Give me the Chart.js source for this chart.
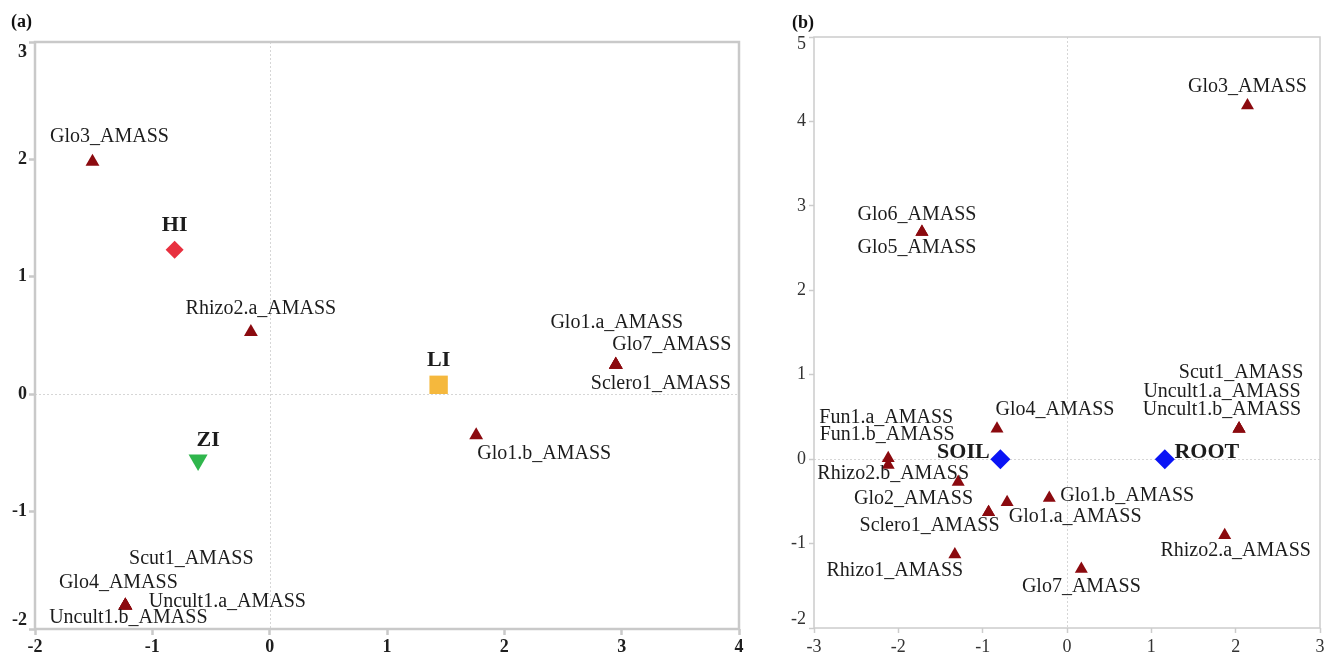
<!DOCTYPE html>
<html>
<head>
<meta charset="utf-8">
<title>CCA biplots (a) and (b)</title>
<script src="https://cdn.jsdelivr.net/npm/chart.js@4.4.1/dist/chart.umd.min.js"></script>
<style>
  html, body { margin: 0; padding: 0; background: #fff; }
  #wrap { position: relative; width: 1326px; height: 659px; overflow: hidden; }
  .panel { position: absolute; top: 0; height: 659px; }
  .tag { position: absolute; font: bold 18px "Liberation Serif", serif; color: #111; }
</style>
</head>
<body>
<div id="wrap">
  <div class="panel" style="left:0;width:770px"><canvas id="chartA" width="770" height="659"></canvas></div>
  <div class="panel" style="left:770px;width:556px"><canvas id="chartB" width="556" height="659"></canvas></div>
  <div class="tag" style="left:11px;top:11px">(a)</div>
  <div class="tag" style="left:792px;top:12px">(b)</div>
</div>
<script>
// ---- panel (a) values ----
var speciesA = ['Glo3_AMASS', 'Rhizo2.a_AMASS', 'Glo1.a_AMASS', 'Glo7_AMASS', 'Sclero1_AMASS',
    'Glo1.b_AMASS', 'Scut1_AMASS', 'Glo4_AMASS', 'Uncult1.a_AMASS', 'Uncult1.b_AMASS'];
var speciesAx = [-1.51, -0.16, 2.95, 2.95, 2.95, 1.76, -1.23, -1.23, -1.23, -1.23];
var speciesAy = [1.98, 0.53, 0.25, 0.25, 0.25, -0.35, -1.80, -1.80, -1.80, -1.80];
var sitesA = ['HI', 'LI', 'ZI'];
var sitesAx = [-0.81, 1.44, -0.61];
var sitesAy = [1.23, 0.08, -0.56];
var xTicksA = [-2, -1, 0, 1, 2, 3, 4];
var yTicksA = [-2, -1, 0, 1, 2, 3];

// ---- panel (b) values ----
var speciesB = ['Glo3_AMASS', 'Glo6_AMASS', 'Glo5_AMASS', 'Glo4_AMASS', 'Scut1_AMASS',
    'Uncult1.a_AMASS', 'Uncult1.b_AMASS', 'Fun1.a_AMASS', 'Fun1.b_AMASS', 'Rhizo2.b_AMASS',
    'Glo2_AMASS', 'Sclero1_AMASS', 'Glo1.a_AMASS', 'Glo1.b_AMASS', 'Rhizo2.a_AMASS',
    'Rhizo1_AMASS', 'Glo7_AMASS'];
var speciesBx = [2.14, -1.72, -1.72, -0.83, 2.04, 2.04, 2.04, -2.12, -2.12, -1.29,
    -0.93, -0.93, -0.71, -0.21, 1.87, -1.33, 0.17];
var speciesBy = [4.19, 2.69, 2.69, 0.36, 0.36, 0.36, 0.36, 0.01, -0.07, -0.27,
    -0.63, -0.63, -0.51, -0.46, -0.90, -1.13, -1.30];
var sitesB = ['SOIL', 'ROOT'];
var sitesBx = [-0.79, 1.16];
var sitesBy = [0, 0];
var xTicksB = [-3, -2, -1, 0, 1, 2, 3];
var yTicksB = [-2, -1, 0, 1, 2, 3, 4, 5];

// label placement next to each marker (pixels), layout only
var shiftA = {
    'Glo3_AMASS': [17, -25], 'Rhizo2.a_AMASS': [10, -23], 'Glo1.a_AMASS': [1, -42],
    'Glo7_AMASS': [56, -20], 'Sclero1_AMASS': [45, 19], 'Glo1.b_AMASS': [68, 18],
    'Scut1_AMASS': [66, -47], 'Glo4_AMASS': [-7, -23], 'Uncult1.a_AMASS': [102, -4],
    'Uncult1.b_AMASS': [3, 12], 'HI': [0, -24], 'LI': [0, -24], 'ZI': [10, -20]
};
var shiftB = {
    'Glo3_AMASS': [0, -19], 'Glo6_AMASS': [-5, -17], 'Glo5_AMASS': [-5, 16],
    'Glo4_AMASS': [58, -19], 'Scut1_AMASS': [2, -56], 'Uncult1.a_AMASS': [-17, -37],
    'Uncult1.b_AMASS': [-17, -19], 'Fun1.a_AMASS': [-2, -41], 'Fun1.b_AMASS': [-1, -30],
    'Rhizo2.b_AMASS': [-65, -8], 'Glo2_AMASS': [-75, -14], 'Sclero1_AMASS': [-59, 13],
    'Glo1.a_AMASS': [68, 15], 'Glo1.b_AMASS': [78, -2], 'Rhizo2.a_AMASS': [11, 16],
    'Rhizo1_AMASS': [-60, 16], 'Glo7_AMASS': [0, 18], 'SOIL': [-37, -7], 'ROOT': [42, -7]
};

var siteLook = {
    HI: { style: 'rectRot', color: '#e8303f', r: 9, rot: 0 },
    LI: { style: 'rect', color: '#f5b83d', r: 13, rot: 0 },
    ZI: { style: 'triangle', color: '#2fb64c', r: 11, rot: 180 },
    SOIL: { style: 'rectRot', color: '#0a14f5', r: 10, rot: 0 },
    ROOT: { style: 'rectRot', color: '#0a14f5', r: 10, rot: 0 }
};

function toPoints(xs, ys) {
    return xs.map(function (x, i) { return { x: x, y: ys[i] }; });
}

// names next to the markers
var pointLabels = {
    id: 'pointLabels',
    afterDatasetsDraw: function (chart) {
        var ctx = chart.ctx;
        var shifts = chart.options.plugins.pointLabels.shifts;
        chart.data.datasets.forEach(function (ds, i) {
            var meta = chart.getDatasetMeta(i);
            meta.data.forEach(function (el, j) {
                var name = ds.names[j];
                var s = shifts[name] || [0, 0];
                ctx.save();
                ctx.font = ds.labelFont;
                ctx.fillStyle = '#1c1c1c';
                ctx.textAlign = 'center';
                ctx.textBaseline = 'middle';
                ctx.fillText(name, el.x + s[0], el.y + s[1]);
                ctx.restore();
            });
        });
    }
};

// box round the plot, the dotted zero lines, and the end labels of the y axis
// (those sit inside the axis range in the original, so they are drawn here)
var frame = {
    id: 'frame',
    beforeDatasetsDraw: function (chart) {
        var a = chart.chartArea, ctx = chart.ctx;
        var o = chart.options.plugins.frame;
        var ys = chart.scales.y;
        var x0 = chart.scales.x.getPixelForValue(0);
        var y0 = ys.getPixelForValue(0);
        ctx.save();
        ctx.strokeStyle = '#d6d6d6';
        ctx.lineWidth = 1;
        ctx.setLineDash([2, 2]);
        ctx.beginPath();
        ctx.moveTo(Math.round(x0) + 0.5, a.top);
        ctx.lineTo(Math.round(x0) + 0.5, a.bottom);
        ctx.moveTo(a.left, Math.round(y0) + 0.5);
        ctx.lineTo(a.right, Math.round(y0) + 0.5);
        ctx.stroke();
        ctx.setLineDash([]);
        ctx.strokeStyle = o.color;
        ctx.lineWidth = o.width;
        ctx.strokeRect(a.left, a.top, a.right - a.left, a.bottom - a.top);

        ctx.font = o.tickFont;
        ctx.fillStyle = o.tickColor;
        ctx.textAlign = 'right';
        ctx.textBaseline = 'middle';
        var lx = a.left - o.tickLen - o.tickPad;
        ctx.fillText(String(ys.max), lx, ys.getPixelForValue(ys.max) + o.endShift[0]);
        ctx.fillText(String(ys.min), lx, ys.getPixelForValue(ys.min) - o.endShift[1]);
        ctx.restore();
    }
};

function buildPanel(canvasId, p) {
    var datasets = [{
        names: p.species,
        labelFont: '20px "Liberation Serif"',
        data: toPoints(p.sx, p.sy),
        pointStyle: 'triangle',
        pointRadius: p.triR,
        backgroundColor: '#8b0a0f',
        borderWidth: 0
    }];
    p.sites.forEach(function (name, i) {
        var look = siteLook[name];
        datasets.push({
            names: [name],
            labelFont: 'bold 22px "Liberation Serif"',
            data: [{ x: p.tx[i], y: p.ty[i] }],
            pointStyle: look.style,
            pointRotation: look.rot,
            pointRadius: look.r,
            backgroundColor: look.color,
            borderWidth: 0
        });
    });

    function axis(ticks, size, hideEnds) {
        return {
            type: 'linear',
            min: ticks[0],
            max: ticks[ticks.length - 1],
            afterBuildTicks: function (scale) {
                scale.ticks = ticks.map(function (v) { return { value: v }; });
            },
            afterFit: function (s) {
                size(s);
                // no extra room for overhanging end labels, the layout padding handles it
                s.paddingLeft = 0;
                s.paddingRight = 0;
                s.paddingTop = 0;
                s.paddingBottom = 0;
            },
            border: { display: false },
            grid: {
                display: true,
                drawOnChartArea: false,
                drawTicks: true,
                tickLength: p.tickLen,
                tickColor: p.frameColor,
                tickWidth: p.frameWidth
            },
            ticks: {
                padding: p.tickPad,
                color: p.tickColor,
                font: { family: '"Liberation Serif"', size: 18, weight: p.tickWeight },
                callback: function (v) {
                    if (hideEnds && (v === ticks[0] || v === ticks[ticks.length - 1])) {
                        return '';
                    }
                    return String(v);
                }
            }
        };
    }

    return new Chart(document.getElementById(canvasId).getContext('2d'), {
        type: 'scatter',
        data: { datasets: datasets },
        options: {
            responsive: false,
            animation: false,
            layout: { padding: p.padding, autoPadding: false },
            scales: {
                x: axis(p.xTicks, function (s) { s.height = p.xAxisH; }, false),
                y: axis(p.yTicks, function (s) { s.width = p.yAxisW; }, true)
            },
            plugins: {
                legend: { display: false },
                tooltip: { enabled: false },
                pointLabels: { shifts: p.shifts },
                frame: {
                    color: p.frameColor, width: p.frameWidth,
                    tickFont: (p.tickWeight === 'bold' ? 'bold ' : '') + '18px "Liberation Serif"',
                    tickColor: p.tickColor, tickLen: p.tickLen, tickPad: p.tickPad,
                    endShift: p.endShift
                }
            }
        },
        plugins: [frame, pointLabels]
    });
}

buildPanel('chartA', {
    species: speciesA, sx: speciesAx, sy: speciesAy,
    sites: sitesA, tx: sitesAx, ty: sitesAy,
    xTicks: xTicksA, yTicks: yTicksA, shifts: shiftA,
    triR: 8, tickLen: 6, tickPad: 2, tickColor: '#1e1e1e', tickWeight: 'bold',
    frameColor: '#c9c9c9', frameWidth: 2.5,
    xAxisH: 30, yAxisW: 35, endShift: [10, 9],
    padding: { top: 42, right: 31, left: 0, bottom: 0 }
});

buildPanel('chartB', {
    species: speciesB, sx: speciesBx, sy: speciesBy,
    sites: sitesB, tx: sitesBx, ty: sitesBy,
    xTicks: xTicksB, yTicks: yTicksB, shifts: shiftB,
    triR: 7.5, tickLen: 5, tickPad: 3, tickColor: '#333', tickWeight: 'normal',
    frameColor: '#cccccc', frameWidth: 1.5,
    xAxisH: 31, yAxisW: 44, endShift: [7, 9],
    padding: { top: 37, right: 6, left: 0, bottom: 0 }
});
</script>
</body>
</html>
